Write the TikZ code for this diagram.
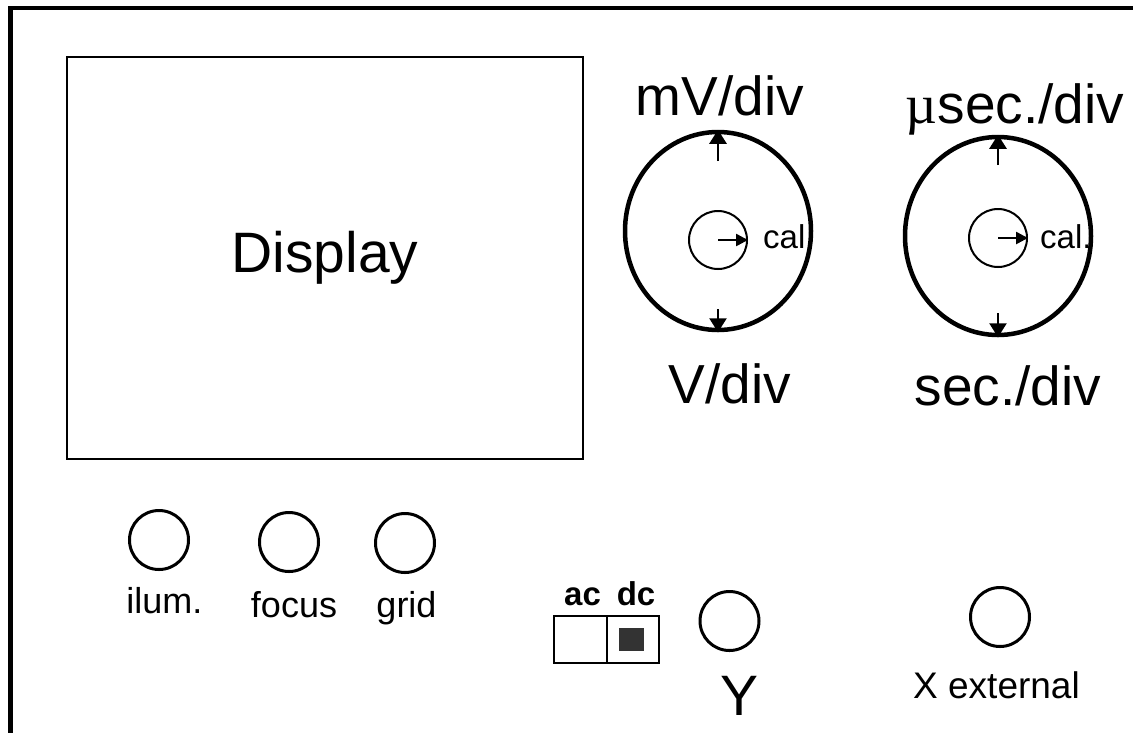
\documentclass[tikz,border=0pt]{standalone}
\usepackage{fontspec}
\setmainfont{Liberation Sans}
\newfontfamily\mufont{Liberation Serif}
\usetikzlibrary{shapes.geometric,arrows.meta}

\begin{document}
\begin{tikzpicture}[x=1pt,y=-1pt,
    knob/.style={draw, ellipse, line width=4.5pt, minimum width=186pt, minimum height=198pt, inner sep=0pt},
    calknob/.style={draw, circle, line width=2pt, minimum size=58pt, inner sep=0pt},
    jack/.style={draw, circle, line width=3pt, minimum size=59pt, inner sep=0pt},
    biglabel/.style={anchor=base, inner sep=0pt, font=\fontsize{55}{60}\selectfont},
    smalllabel/.style={anchor=base, inner sep=0pt, font=\fontsize{36}{40}\selectfont},
    switchlabel/.style={anchor=base, inner sep=0pt, font=\bfseries\fontsize{33}{36}\selectfont},
    pointer/.style={line width=2.5pt, -{Triangle[length=14pt,width=17pt]}},
    calpointer/.style={line width=2.5pt, -{Triangle[length=12pt,width=12pt]}}]
    \useasboundingbox (0,0) rectangle (1133,732);

    % Panel outline
    \draw[line width=4.5pt] (10.5,745) -- (10.5,8) -- (1145,8);

    % Display
    \node[draw, line width=2.5pt, minimum width=516pt, minimum height=402pt,
          font=\fontsize{57}{60}\selectfont] (screen) at (325,258) {Display};

    % Vertical deflection knob
    \node[knob] (vknob) at (718,231) {};
    \node[calknob] (vcal) at (718,240) {};
    \coordinate (vup) at (718,161);
    \coordinate (vdown) at (718,309);
    \draw[pointer] (vup) -- (vknob.north);
    \draw[pointer] (vdown) -- (vknob.south);
    \draw[calpointer] (vcal.center) -- (vcal.east);
    \node[biglabel] (mvdiv) at (720,115) {mV/div};
    \node[biglabel] (vdiv) at (730,403) {V/div};
    \node[anchor=base west, inner sep=0pt, font=\fontsize{33}{36}\selectfont] (vcallabel) at (763,248) {cal};

    % Time base knob
    \node[knob] (tknob) at (998,236) {};
    \node[calknob] (tcal) at (998,238) {};
    \coordinate (tup) at (998,165);
    \coordinate (tdown) at (998,313);
    \draw[pointer] (tup) -- (tknob.north);
    \draw[pointer] (tdown) -- (tknob.south);
    \draw[calpointer] (tcal.center) -- (tcal.east);
    \node[biglabel] (usdiv) at (1015,123) {{\mufont µ}sec./div};
    \node[biglabel] (sdiv) at (1008,405) {sec./div};
    \node[anchor=base west, inner sep=0pt, font=\fontsize{33}{36}\selectfont] (tcallabel) at (1040,248) {cal.};

    % Front controls
    \foreach \name/\x/\y/\lx/\ly/\txt in {ilum/159/540/164.5/613/ilum., focus/289/542/294/617/focus, grid/405/543/406.5/617/grid} {
        \node[jack] (\name) at (\x,\y) {};
        \node[smalllabel] (\name label) at (\lx,\ly) {\txt};
    }

    % Coupling switch
    \node[draw, line width=2pt, minimum width=53pt, minimum height=47pt, inner sep=0pt] (acbox) at (580.5,639.5) {};
    \node[draw, line width=2pt, minimum width=52pt, minimum height=47pt, inner sep=0pt] (dcbox) at (633,639.5) {};
    \node[fill=black!80, minimum width=25pt, minimum height=23pt, inner sep=0pt] (dcdot) at (631.5,639.5) {};
    \node[switchlabel] (aclabel) at (582.5,605) {ac};
    \node[switchlabel] (dclabel) at (636,605) {dc};

    % Inputs
    \node[jack] (yin) at (729.5,621) {};
    \node[anchor=base, inner sep=0pt, font=\fontsize{57}{60}\selectfont] (ylabel) at (740,715) {Y};
    \node[jack] (xin) at (1000,617) {};
    \node[anchor=base, inner sep=0pt, font=\fontsize{37}{40}\selectfont] (xlabel) at (996.5,698) {X external};
\end{tikzpicture}
\end{document}
